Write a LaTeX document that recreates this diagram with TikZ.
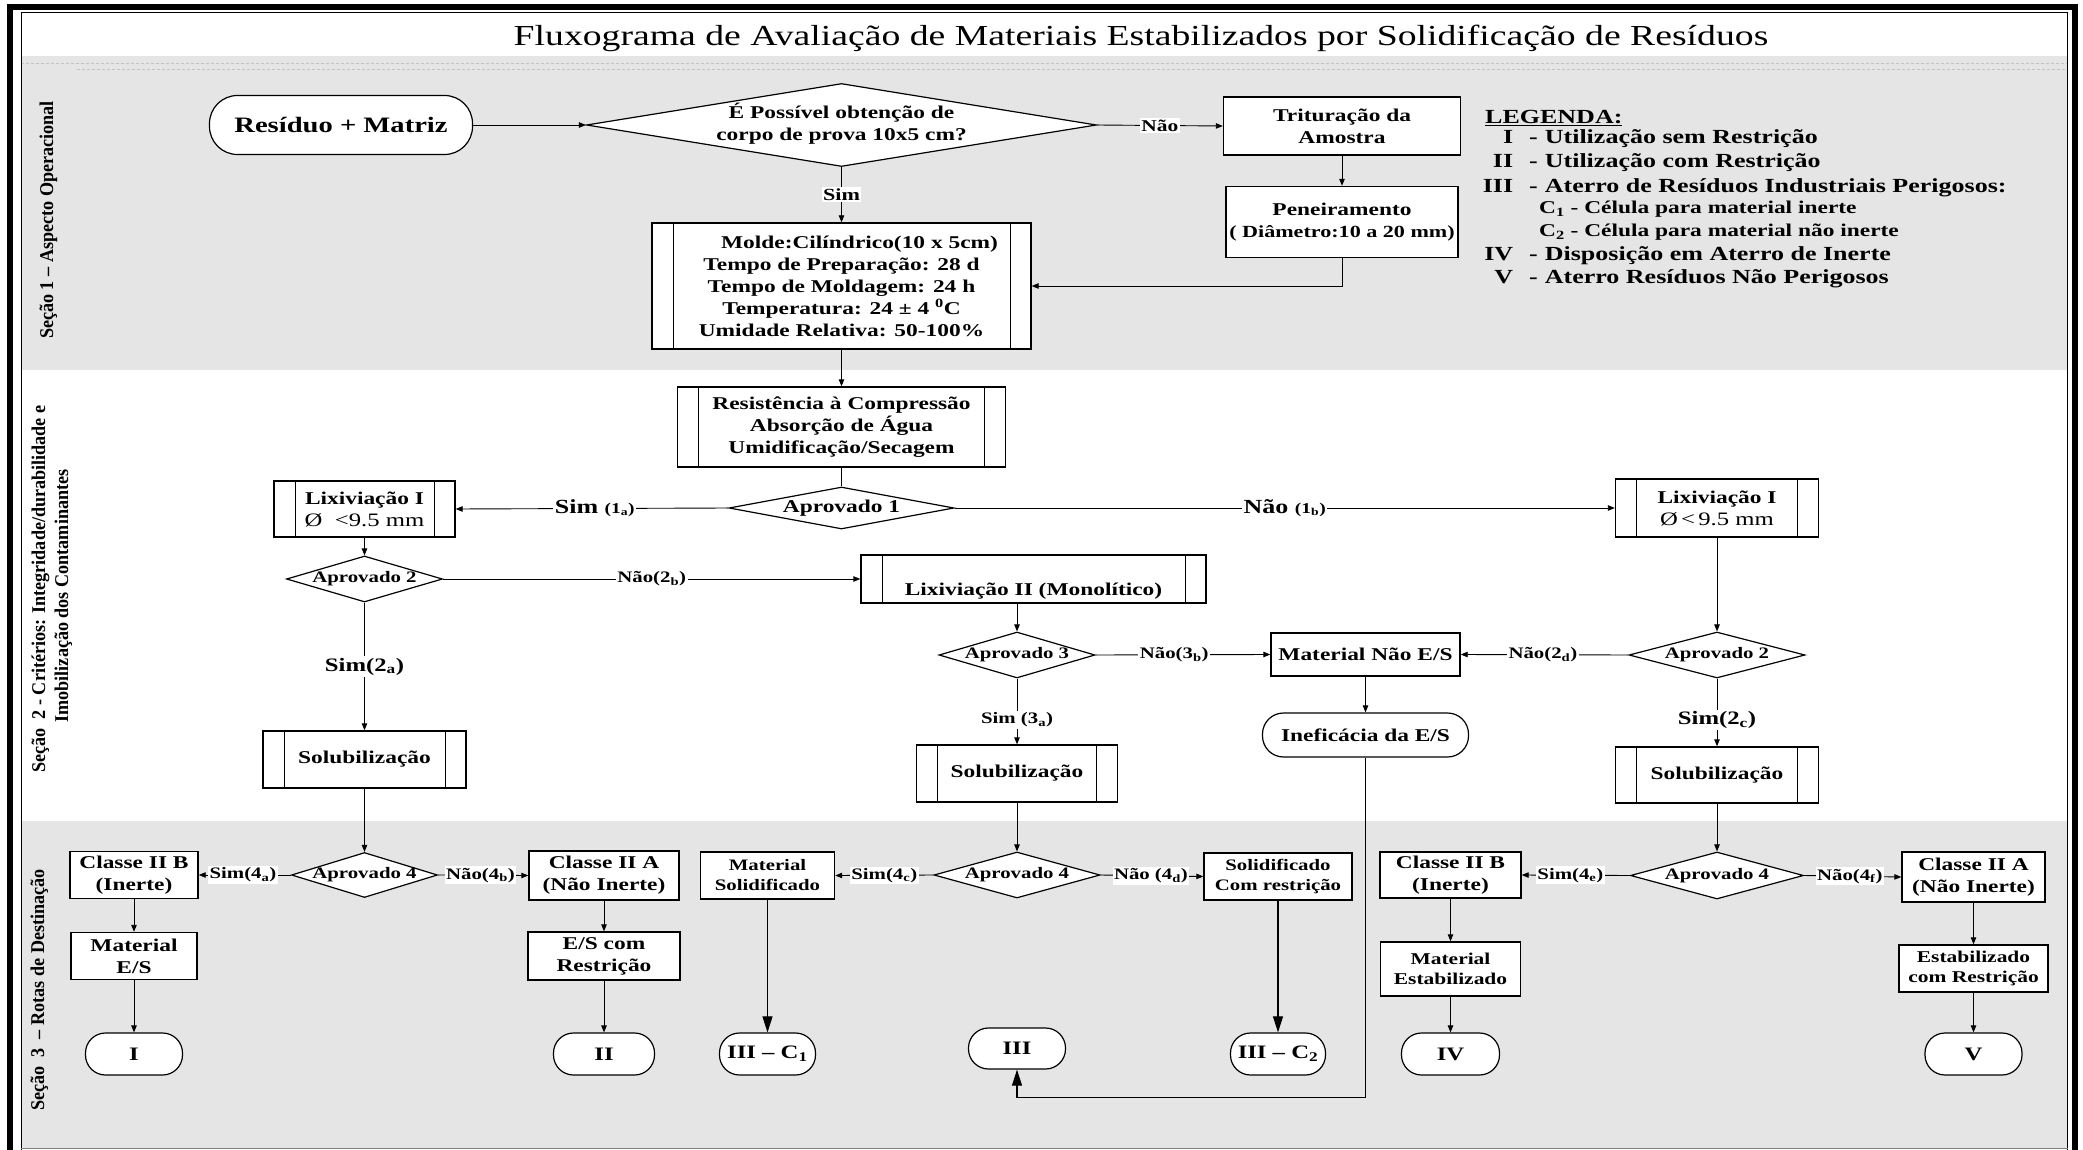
\documentclass[tikz,border=0pt]{standalone}
\usepackage{fontspec}
\setmainfont{Liberation Serif}[FakeStretch=1.3]
\newfontfamily\vfont{Liberation Serif}[FakeStretch=0.93]
\usetikzlibrary{shapes.geometric,arrows.meta,calc}

\newcommand\fsz[2]{\fontsize{#1pt}{#2pt}\selectfont}
\newcommand\zw[1]{\makebox[0pt]{#1}}
\newcommand\sbs[1]{\textsubscript{#1}}
\newcommand\legline[2]{\makebox[29pt][r]{#1}\hspace{16pt}-\hspace{7pt}#2}

\definecolor{bandgray}{HTML}{E5E5E5}
\definecolor{dashgray}{HTML}{C4C4C4}

\tikzset{
  box/.style={draw, line width=1.4pt, fill=white, inner sep=0pt, align=center,
              font=\bfseries\fsz{18}{22}},
  proc/.style={box, path picture={
      \draw[line width=1pt]
        ([xshift=21pt]path picture bounding box.north west) --
        ([xshift=21pt]path picture bounding box.south west)
        ([xshift=-21pt]path picture bounding box.north east) --
        ([xshift=-21pt]path picture bounding box.south east);}},
  term/.style={box, line width=1.2pt, rounded corners=20pt, font=\bfseries\fsz{19}{22}},
  dec/.style={draw, diamond, line width=1.2pt, fill=white, inner sep=0pt,
              font=\bfseries\fsz{16}{20}},
  lab/.style={fill=white, inner sep=1.5pt, font=\bfseries\fsz{16}{19}},
  con/.style={line width=0.9pt, -{Triangle[length=7pt,width=5.5pt]}},
  bigcon/.style={line width=1.1pt, -{Triangle[length=16pt,width=10pt]}},
  link/.style={line width=0.9pt},
  leg/.style={font=\bfseries\fsz{20}{24}, inner sep=0pt},
  vlab/.style={rotate=90, anchor=base, inner sep=0pt, font=\vfont\bfseries\fsz{19.5}{23}},
}

\begin{document}
\begin{tikzpicture}[x=1pt, y=-1pt]
\useasboundingbox (0,0) rectangle (2083,1150);
\fill[white] (0,0) rectangle (2083,1150);

% section bands
\fill[bandgray] (21,56) rectangle (2067,370);
\fill[bandgray] (21,821) rectangle (2067,1148);
\draw[dashgray, line width=0.8pt, dash pattern=on 3pt off 2pt] (21,63) -- (2067,63);
\draw[dashgray, line width=0.8pt, dash pattern=on 3pt off 2pt] (77,69) -- (2067,69);

% frames
\draw[line width=1pt] (21,1150) -- (21,12.5) -- (2067.5,12.5) -- (2067.5,1150);
\draw[gray, line width=0.8pt] (21,1148) -- (2067.5,1148);
\draw[line width=6pt, line join=miter] (10,1150) -- (10,7) -- (2074.5,7) -- (2074.5,1150);

% title
\node[anchor=base, inner sep=0pt, font=\fsz{29}{34}] (title) at (1141,46)
  {Fluxograma de Avaliação de Materiais Estabilizados por Solidificação de Resíduos};

% section labels
\node[vlab] (s1) at (53,220) {Seção 1 – Aspecto Operacional};
\node[vlab] (s2a) at (45,589) {Seção\ \ 2 - Critérios: Integridade/durabilidade e};
\node[vlab] (s2b) at (68,596) {Imobilização dos Contaminantes};
\node[vlab] (s3) at (44,990) {Seção\ \ 3\ \ – Rotas de Destinação};

% ---------- section 1 ----------
\node[term, rounded corners=28pt, font=\bfseries\fsz{22}{26}, minimum width=263pt, minimum height=59pt]
  (start) at (341,125) {Resíduo + Matriz};
\node[dec, aspect=6.1, minimum width=510pt, minimum height=83pt, font=\bfseries\fsz{18}{22}]
  (q1) at (841.5,125) {\zw{\begin{tabular}{@{}c@{}}É Possível obtenção de\\corpo de prova 10x5 cm?\end{tabular}}};
\node[box, minimum width=237pt, minimum height=58pt] (trit) at (1342,126) {Trituração da\\Amostra};
\node[box, minimum width=232pt, minimum height=71pt] (pen) at (1342,222)
  {Peneiramento\\{\fsz{17}{20}( Diâmetro:10 a 20 mm)}};
\node[proc, minimum width=379pt, minimum height=126pt] (molde) at (841.5,286)
  {\hspace*{36pt}Molde:Cilíndrico(10 x 5cm)\\Tempo de Preparação: 28 d\\Tempo de Moldagem: 24 h\\Temperatura: 24 ± 4 \textsuperscript{0}C\\Umidade Relativa: 50-100\%};

% legend
\node[leg, anchor=base west] (legt) at (1485,124) {\underline{LEGENDA:}};
\node[leg, anchor=base west] (lgI) at (1484,144) {\legline{I}{Utilização sem Restrição}};
\node[leg, anchor=base west] (lgII) at (1484,168) {\legline{II}{Utilização com Restrição}};
\node[leg, anchor=base west] (lgIII) at (1484,193) {\legline{III}{Aterro de Resíduos Industriais Perigosos:}};
\node[leg, anchor=base west, font=\bfseries\fsz{18}{22}] (lgC1) at (1539,214) {C\sbs{1} - Célula para material inerte};
\node[leg, anchor=base west, font=\bfseries\fsz{18}{22}] (lgC2) at (1539,237) {C\sbs{2} - Célula para material não inerte};
\node[leg, anchor=base west] (lgIV) at (1484,261) {\legline{IV}{Disposição em Aterro de Inerte}};
\node[leg, anchor=base west] (lgV) at (1484,284) {\legline{V}{Aterro Resíduos Não Perigosos}};

% ---------- section 2 ----------
\node[proc, minimum width=328pt, minimum height=80pt, font=\bfseries\fsz{18}{21.7}] (resist) at (841.5,427)
  {Resistência à Compressão\\Absorção de Água\\Umidificação/Secagem};
\node[dec, aspect=5.4, minimum width=225pt, minimum height=42pt, font=\bfseries\fsz{18}{22}] (ap1) at (841.5,508) {\zw{Aprovado 1}};
\node[proc, minimum width=181pt, minimum height=56pt] (lixL) at (364.5,509)
  {Lixiviação I\\{\mdseries\fsz{19}{22}Ø\ \ <9.5 mm}};
\node[proc, minimum width=203pt, minimum height=58pt] (lixR) at (1717,508)
  {Lixiviação I\\{\mdseries\fsz{19}{22}Ø\,<\,9.5 mm}};
\node[dec, aspect=3.4, minimum width=156pt, minimum height=46pt] (ap2L) at (364.5,579) {\zw{Aprovado 2}};
\node[proc, minimum width=345pt, minimum height=48pt] (lixII) at (1033.5,579)
  {\raisebox{-16pt}[0pt][0pt]{Lixiviação II (Monolítico)}};
\node[dec, aspect=3.4, minimum width=156pt, minimum height=46pt] (ap3) at (1017,655) {\zw{Aprovado 3}};
\node[box, minimum width=189pt, minimum height=43pt] (matNao) at (1365.5,654.5) {Material Não E/S};
\node[dec, aspect=3.8, minimum width=176pt, minimum height=46pt] (ap2R) at (1717,655) {\zw{Aprovado 2}};
\node[term, rounded corners=21pt, font=\bfseries\fsz{18}{22}, minimum width=206pt, minimum height=44pt]
  (inef) at (1365.5,735) {Ineficácia da E/S};
\node[proc, minimum width=203pt, minimum height=57pt] (solL) at (364.5,759.5) {Solubilização};
\node[proc, minimum width=201pt, minimum height=57pt] (solM) at (1017,773.5) {Solubilização};
\node[proc, minimum width=203pt, minimum height=56pt] (solR) at (1717,775) {Solubilização};

% ---------- section 3 ----------
\node[dec, aspect=3.2, minimum width=146pt, minimum height=45pt] (ap4L) at (364.5,875) {\zw{Aprovado 4}};
\node[box, minimum width=128pt, minimum height=47pt] (c2bL) at (134,875) {Classe II B\\(Inerte)};
\node[box, minimum width=126pt, minimum height=47pt] (matES) at (134,956) {Material\\E/S};
\node[term, minimum width=97pt, minimum height=42pt] (tI) at (134,1054) {I};
\node[box, minimum width=150pt, minimum height=49pt] (c2aL) at (604,875.5) {Classe II A\\(Não Inerte)};
\node[box, minimum width=152pt, minimum height=48pt] (esR) at (604,956) {E/S com\\Restrição};
\node[term, minimum width=101pt, minimum height=42pt] (tII) at (604,1054) {II};
\node[dec, aspect=3.6, minimum width=166pt, minimum height=46pt] (ap4M) at (1017,875) {\zw{Aprovado 4}};
\node[box, minimum width=134pt, minimum height=47pt, font=\bfseries\fsz{16}{20}] (matSol) at (767.5,875.5) {Material\\Solidificado};
\node[term, minimum width=96pt, minimum height=42pt] (tC1) at (767.5,1054) {III – C\sbs{1}};
\node[term, minimum width=97pt, minimum height=41pt] (tIII) at (1017,1048.5) {III};
\node[box, minimum width=148pt, minimum height=47pt, font=\bfseries\fsz{16}{20}] (solRes) at (1278,876.5) {Solidificado\\Com restrição};
\node[term, minimum width=95pt, minimum height=42pt] (tC2) at (1278,1054) {III – C\sbs{2}};
\node[dec, aspect=3.7, minimum width=173pt, minimum height=47pt] (ap4R) at (1717,875.5) {\zw{Aprovado 4}};
\node[box, minimum width=141pt, minimum height=46pt] (c2bR) at (1450.5,875) {Classe II B\\(Inerte)};
\node[box, minimum width=140pt, minimum height=54pt, font=\bfseries\fsz{16.5}{20}] (matEst) at (1450.5,969) {Material\\Estabilizado};
\node[term, minimum width=98pt, minimum height=42pt] (tIV) at (1450.5,1054) {IV};
\node[box, minimum width=143pt, minimum height=50pt] (c2aR) at (1973.5,877) {Classe II A\\(Não Inerte)};
\node[box, minimum width=149pt, minimum height=47pt, font=\bfseries\fsz{16.5}{20}] (estRes) at (1973.5,968.5) {Estabilizado\\com Restrição};
\node[term, minimum width=97pt, minimum height=42pt] (tV) at (1973.5,1054) {V};

% ---------- connectors: section 1 ----------
\draw[con] (start.east) -- (q1.west);
\draw[con] (q1.east) -- node[lab, font=\bfseries\fsz{16.5}{19}] {Não} (trit.west);
\draw[con] (q1.south) -- node[lab, font=\bfseries\fsz{17}{20}] {Sim} (molde.north);
\draw[con] (trit.south) -- (pen.north);
\draw[con] (pen.south) |- (molde.east);

% ---------- connectors: section 2 ----------
\draw[con] (molde.south) -- (resist.north);
\draw[link] (resist.south) -- (ap1.north);
\draw[con] (ap1.west) -- node[lab, pos=0.49] {\fsz{20}{22}Sim {\fsz{15}{18}(1\sbs{a})}} (lixL.east);
\draw[con] (ap1.east) -- node[lab, pos=0.5] {\fsz{20}{22}Não {\fsz{15}{18}(1\sbs{b})}} (lixR.west);
\draw[con] (lixL.south) -- (ap2L.north);
\draw[con] (ap2L.east) -- node[lab, pos=0.5] {Não(2\sbs{b})} (lixII.west);
\draw[con] (ap2L.south) -- node[lab, pos=0.5, font=\bfseries\fsz{19}{22}] {Sim(2\sbs{a})} (solL.north);
\draw[con] (ap3.north |- lixII.south) -- (ap3.north);
\draw[con] (ap3.east) -- node[lab, pos=0.45] {Não(3\sbs{b})} (matNao.west);
\draw[con] (lixR.south) -- (ap2R.north);
\draw[con] (ap2R.west) -- node[lab, pos=0.51] {Não(2\sbs{d})} (matNao.east);
\draw[con] (matNao.south) -- (inef.north);
\draw[con] (ap3.south) -- node[lab, pos=0.63] {Sim (3\sbs{a})} (solM.north);
\draw[con] (ap2R.south) -- node[lab, pos=0.61, font=\bfseries\fsz{19}{22}] {Sim(2\sbs{c})} (solR.north);
\draw[bigcon] (inef.south) -- ++(0,340) -| (tIII.south);

% ---------- connectors: section 3 ----------
\draw[con] (solL.south) -- (ap4L.north);
\draw[con] (ap4L.west) -- node[lab, pos=0.52] {Sim(4\sbs{a})} (c2bL.east);
\draw[con] (ap4L.east) -- node[lab, pos=0.47] {Não(4\sbs{b})} (c2aL.west);
\draw[con] (c2bL.south) -- (matES.north);
\draw[con] (matES.south) -- (tI.north);
\draw[con] (c2aL.south) -- (esR.north);
\draw[con] (esR.south) -- (tII.north);

\draw[con] (solM.south) -- (ap4M.north);
\draw[con] (ap4M.west) -- node[lab, pos=0.5] {Sim(4\sbs{c})} (matSol.east);
\draw[con] (ap4M.east) -- node[lab, pos=0.49] {Não (4\sbs{d})} (solRes.west);
\draw[bigcon] (matSol.south) -- (tC1.north);
\draw[bigcon] (solRes.south) -- (tC2.north);

\draw[con] (solR.south) -- (ap4R.north);
\draw[con] (ap4R.west) -- node[lab, pos=0.55] {Sim(4\sbs{e})} (c2bR.east);
\draw[con] (ap4R.east) -- node[lab, pos=0.47] {Não(4\sbs{f})} (c2aR.west);
\draw[con] (c2bR.south) -- (matEst.north);
\draw[con] (matEst.south) -- (tIV.north);
\draw[con] (c2aR.south) -- (estRes.north);
\draw[con] (estRes.south) -- (tV.north);
\end{tikzpicture}
\end{document}
